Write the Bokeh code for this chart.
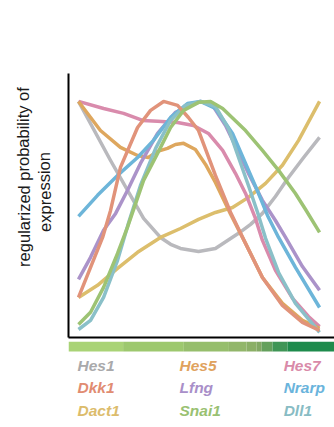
from bokeh.plotting import figure
from bokeh.layouts import column, row
from bokeh.models import Range1d, FixedTicker
from bokeh.embed import file_html
from bokeh.resources import INLINE
from bokeh.core.properties import value

# ---- data (pseudotime 0-100, regularized probability 0-100) ----
hes1_x = [0, 13.3, 27.0, 34.0, 38.2, 42.3, 49.8, 56.8, 66.4, 71.4, 76.3, 81.7, 87.1, 93.4, 100]
hes1_y = [100, 74.2, 48.9, 40.6, 37.6, 35.8, 34.5, 35.8, 42.4, 46.3, 51.1, 58.5, 66.8, 75.5, 84.3]

hes5_x = [0, 9.1, 17.4, 24.5, 29.0, 32.8, 36.9, 40.2, 43.6, 48.5, 52.7, 56.8, 63.1, 69.3, 76.3, 84.6, 92.9, 100]
hes5_y = [100, 87.3, 79.9, 76.4, 75.5, 78.2, 79.5, 81.2, 81.7, 79.0, 72.5, 64.6, 50.7, 38.0, 23.1, 11.8, 4.4, 0.9]

hes7_x = [0, 10.4, 18.7, 26.6, 32.8, 41.1, 47.7, 53.9, 59.8, 65.1, 69.3, 73.4, 76.3, 81.7, 88.8, 95.4, 100]
hes7_y = [100, 96.9, 94.8, 91.7, 91.3, 90.8, 89.5, 86.0, 78.6, 68.6, 59.8, 48.9, 39.3, 26.2, 14.0, 6.1, 1.7]

dkk1_x = [0, 5.0, 10.0, 13.3, 17.4, 24.5, 29.9, 35.3, 41.1, 45.6, 49.8, 56.8, 63.1, 69.3, 76.3, 84.6, 92.9, 100]
dkk1_y = [14.4, 27.5, 40.6, 52.4, 71.2, 88.6, 96.1, 100, 98.3, 93.0, 87.3, 67.7, 51.5, 38.0, 23.1, 10.9, 3.5, 0]

lfng_x = [0, 5.0, 10.4, 15.4, 20.3, 25.7, 32.8, 40.2, 50.6, 55.6, 61.0, 66.0, 70.5, 76.3, 81.7, 85.9, 92.9, 100]
lfng_y = [22.3, 31.9, 43.7, 51.1, 61.1, 72.9, 86.0, 95.2, 100, 98.3, 89.5, 78.6, 68.6, 56.8, 48.0, 40.6, 27.9, 17.5]

nrarp_x = [0, 7.9, 16.2, 24.5, 31.1, 38.2, 45.2, 50.6, 56.8, 63.9, 69.3, 74.7, 78.4, 83.0, 90.0, 100]
nrarp_y = [49.8, 59.0, 67.7, 75.5, 83.0, 93.0, 99.1, 100, 96.9, 86.0, 72.9, 59.8, 50.2, 40.6, 27.5, 10.0]

dact1_x = [0, 7.9, 16.2, 24.5, 34.0, 42.3, 49.8, 56.8, 63.9, 70.5, 77.6, 84.6, 91.3, 100]
dact1_y = [14.4, 19.7, 27.1, 34.1, 40.6, 44.5, 48.5, 51.5, 53.7, 58.1, 64.2, 72.1, 83.0, 100]

snai1_x = [0, 5.0, 10.4, 16.2, 20.3, 27.0, 32.8, 38.2, 43.6, 49.8, 54.8, 59.8, 69.3, 76.3, 83.0, 90.0, 94.2, 100]
snai1_y = [2.6, 7.9, 18.8, 33.6, 45.0, 65.5, 77.3, 88.6, 96.1, 99.6, 100, 96.9, 87.3, 78.6, 69.9, 59.8, 52.8, 42.8]

dll1_x = [0, 5.0, 10.4, 16.2, 20.7, 25.7, 32.0, 38.2, 44.4, 50.6, 56.8, 62.2, 66.4, 70.5, 74.3, 77.6, 83.0, 90.0, 100]
dll1_y = [0.4, 4.4, 14.4, 30.6, 46.7, 63.3, 79.5, 91.7, 98.3, 100, 97.8, 88.2, 75.5, 63.3, 51.5, 40.2, 25.3, 11.8, -0.9]

# legend order (3 columns x 3 rows)
legend_genes = ["Hes1", "Hes5", "Hes7", "Dkk1", "Lfng", "Nrarp", "Dact1", "Snai1", "Dll1"]

# y-axis title lines
ylabel_lines = ["regularized probability of", "expression"]

# colour bar (pseudotime stages) boundaries and colours
stage_edges = [-4.15, 18.5, 43.7, 62.4, 69.7, 73.9, 76.0, 80.5, 86.7, 106.2]
stage_colors = ["#a9d376", "#9dc86e", "#96be6c", "#92b66a", "#8baf66", "#82a863",
                "#64a05c", "#3f9556", "#1e8b4c"]

series = {
    "Hes1": (hes1_x, hes1_y, "#b9b9bd"),
    "Dact1": (dact1_x, dact1_y, "#dcbe6c"),
    "Hes7": (hes7_x, hes7_y, "#d98bac"),
    "Hes5": (hes5_x, hes5_y, "#dea75e"),
    "Lfng": (lfng_x, lfng_y, "#ab93c9"),
    "Nrarp": (nrarp_x, nrarp_y, "#6db5d9"),
    "Dll1": (dll1_x, dll1_y, "#8ac0c8"),
    "Dkk1": (dkk1_x, dkk1_y, "#e1937a"),
    "Snai1": (snai1_x, snai1_y, "#9dc374"),
}
text_colors = {
    "Hes1": "#a9a9ab", "Hes5": "#e0a25e", "Hes7": "#d98aa9",
    "Dkk1": "#e18c72", "Lfng": "#a98fc9", "Nrarp": "#6ab4dc",
    "Dact1": "#dcbc6c", "Snai1": "#99c172", "Dll1": "#88bcc4",
}

xr = Range1d(-4.15, 106.2)

# ---- left strip holding the y-axis title ----
lab = figure(width=60, height=427, x_range=Range1d(0, 60), y_range=Range1d(427, 0),
             output_backend="svg", toolbar_location=None,
             x_axis_location=None, y_axis_location=None,
             min_border_left=0, min_border_right=0, min_border_top=0, min_border_bottom=0)
lab.outline_line_color = None
lab.grid.visible = False
lab.text(x=[23, 44], y=[176.5, 191.5], text=ylabel_lines, angle=1.5708,
         text_align="center", text_baseline="middle",
         text_font=value("Liberation Sans"), text_font_size="16.5px", text_color="#1a1a1a")

# ---- main plot ----
p = figure(width=274, height=341, x_range=xr, y_range=Range1d(-3.1, 112.2),
           output_backend="svg", toolbar_location=None,
           min_border_left=8, min_border_right=0, min_border_top=73, min_border_bottom=4)
p.outline_line_color = None
p.grid.visible = False
for ax in (p.xaxis[0], p.yaxis[0]):
    ax.ticker = FixedTicker(ticks=[])
    ax.major_tick_out = 0
    ax.major_tick_in = 0
    ax.minor_tick_out = 0
    ax.minor_tick_in = 0
    ax.major_label_text_font_size = "0px"
    ax.major_label_standoff = 0
    ax.axis_line_width = 2
    ax.axis_line_color = "black"

for name, (xs, ys, col) in series.items():
    p.line(xs, ys, line_color=col, line_width=3.5, line_join="round")

# ---- colour bar and gene legend ----
q = figure(width=274, height=86, x_range=xr, y_range=Range1d(0, 86),
           output_backend="svg", toolbar_location=None,
           x_axis_location=None, y_axis_location=None,
           min_border_left=8, min_border_right=0, min_border_top=0, min_border_bottom=0)
q.outline_line_color = None
q.grid.visible = False
q.quad(left=stage_edges[:-1], right=stage_edges[1:], bottom=76, top=86,
       fill_color=stage_colors, line_color=None)

col_x = [-0.4, 41.9, 85.1]
row_y = [62, 40, 17]
for i, g in enumerate(legend_genes):
    q.text(x=[col_x[i % 3]], y=[row_y[i // 3]], text=[g],
           text_color=text_colors[g], text_font=value("Liberation Sans"),
           text_font_size="15.5px", text_font_style="bold italic",
           text_baseline="alphabetic", text_align="left")

layout = row(lab, column(p, q, spacing=0), spacing=0)
open("out.html", "w").write(file_html(layout, INLINE))
